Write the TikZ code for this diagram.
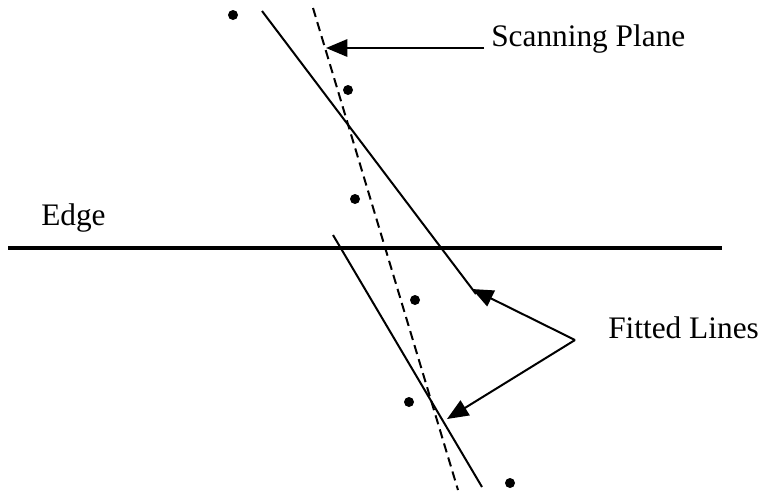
\documentclass[tikz,border=0pt]{standalone}
\usepackage{fontspec}
\setmainfont{Liberation Serif}
\usepackage{tikz}
\usetikzlibrary{positioning, arrows.meta}

\begin{document}
\begin{tikzpicture}[x=0.75pt, y=-0.75pt]
	\tikzset{
		fitline/.style={line width=1.5pt},
		scanline/.style={line width=1.5pt, dash pattern=on 7pt off 4pt},
		edgeline/.style={line width=3pt},
		pointer/.style={line width=1.5pt, -{Triangle[length=16pt, width=13pt]}},
		datapt/.style={circle, fill=black, minimum size=7.5pt, inner sep=0pt},
		label/.style={font=\fontsize{23.5}{27}\selectfont, inner sep=0pt, anchor=base west},
	}
	\useasboundingbox (0,0) rectangle (762,494);
	
	% Edge
	\coordinate (E1) at (8,248);
	\coordinate (E2) at (722,248);
	\draw[edgeline] (E1) -- (E2);
	\node[label] (edge) at (41,225) {Edge};
	
	% Scanning plane
	\coordinate (S1) at (313,8);
	\coordinate (S2) at (458,490);
	\draw[scanline] (S1) -- (S2);
	
	% Fitted lines
	\coordinate (F1a) at (262,11);
	\coordinate (F1b) at (476,294);
	\draw[fitline] (F1a) -- (F1b);
	\coordinate (F2a) at (333,235);
	\coordinate (F2b) at (482,487);
	\draw[fitline] (F2a) -- (F2b);
	
	% Data points
	\foreach \px/\py [count=\i] in {233/15, 348/90, 355/199, 415/300, 409/402, 510/483} {
		\node[datapt] (P\i) at (\px,\py) {};
	}
	
	% Labels and pointers
	\node[label] (scan) at (491,46) {Scanning Plane};
	\coordinate (Sa) at (484,48);
	\coordinate (St) at (326,48);
	\draw[pointer] (Sa) -- (St);
	
	\node[label] (fit) at (608,338) {Fitted Lines};
	\coordinate (J) at (575,340);
	\coordinate (T1) at (472,289);
	\coordinate (T2) at (447,419);
	\draw[pointer] (J) -- (T1);
	\draw[pointer] (J) -- (T2);
\end{tikzpicture}
\end{document}
